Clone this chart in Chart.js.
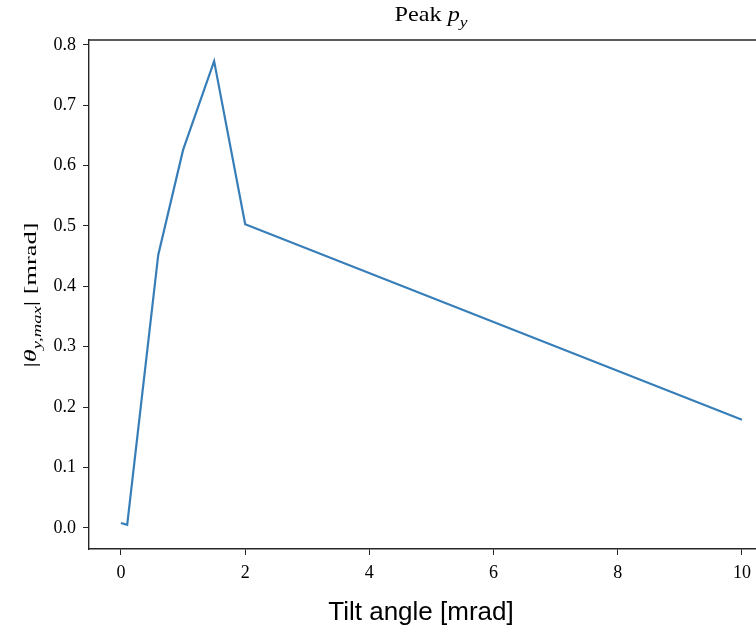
<!DOCTYPE html>
<html>
<head>
<meta charset="utf-8">
<script src="https://cdn.jsdelivr.net/npm/chart.js@4"></script>
<style>
    html, body { margin: 0; padding: 0; background: #fff; overflow: hidden; }
    #wrap { width: 790px; height: 627px; }
</style>
</head>
<body>
<div id="wrap"><canvas id="peakChart" width="790" height="627"></canvas></div>
<script>
// tilt angle [mrad] against peak |theta_y,max| [mrad]
const tiltAngles = [0, 0.1, 0.6, 1.0, 1.5, 2.0, 10];
const thetaPeak = [0.008, 0.005, 0.452, 0.626, 0.773, 0.503, 0.179];
const xTicks = [0, 2, 4, 6, 8, 10];
const yTicks = [0.0, 0.1, 0.2, 0.3, 0.4, 0.5, 0.6, 0.7, 0.8];

const SERIF = '"Liberation Serif", "DejaVu Serif", serif';
const INK = '#262626';

// draws a run of [text, style] pieces; style: '' normal, 'i' italic, 's' italic subscript
// width, when given, stretches the run to that length
function drawPieces(ctx, pieces, size, x, y, width) {
    let fontFor = st => st === '' ? size + 'px ' + SERIF
        : st === 'i' ? 'italic ' + size + 'px ' + SERIF
        : 'italic ' + Math.round(size * 0.72) + 'px ' + SERIF;
    let total = 0;
    pieces.forEach(p => { ctx.font = fontFor(p[1]); total += ctx.measureText(p[0]).width; });
    let sx = width ? width / total : 1;
    ctx.save();
    ctx.translate(x, y);
    ctx.scale(sx, 1);
    let cx = -total / 2;
    ctx.textBaseline = 'alphabetic';
    ctx.textAlign = 'left';
    pieces.forEach(p => {
        ctx.font = fontFor(p[1]);
        let dy = p[1] === 's' ? size * 0.27 : 0;
        ctx.fillText(p[0], cx, dy);
        cx += ctx.measureText(p[0]).width;
    });
    ctx.restore();
}

const labelsPlugin = {
    id: 'labels',
    afterDraw(chart) {
        const ctx = chart.ctx;
        const area = chart.chartArea;
        ctx.save();
        ctx.fillStyle = '#000';

        // title
        drawPieces(ctx, [['Peak ', ''], ['p', 'i'], ['y', 's']], 21, 431, 21, 73);

        // y axis title, rotated
        ctx.save();
        ctx.translate(36, 295);
        ctx.rotate(-Math.PI / 2);
        drawPieces(ctx, [['|', ''], ['\u03b8', 'i'], ['y,max', 's'], ['| [mrad]', '']], 17, 0, 0, 145);
        ctx.restore();

        // x axis title
        ctx.font = '26px "Liberation Sans", Arial, sans-serif';
        ctx.textAlign = 'center';
        ctx.textBaseline = 'alphabetic';
        ctx.fillText('Tilt angle [mrad]', 421, 620);

        // top spine
        ctx.strokeStyle = INK;
        ctx.lineWidth = 1.4;
        ctx.beginPath();
        ctx.moveTo(area.left, area.top);
        ctx.lineTo(area.right, area.top);
        ctx.stroke();
        ctx.restore();
    }
};

const points = tiltAngles.map((t, i) => ({ x: t, y: thetaPeak[i] }));

new Chart(document.getElementById('peakChart'), {
    type: 'line',
    data: {
        datasets: [{
            data: points,
            borderColor: 'rgb(55, 126, 184)',
            borderWidth: 2.2,
            tension: 0,
            pointRadius: 0,
            fill: false,
        }],
    },
    options: {
        responsive: false,
        animation: false,
        layout: { padding: { top: 40, right: 17, left: 0, bottom: 0 } },
        plugins: { legend: { display: false }, tooltip: { enabled: false } },
        scales: {
            x: {
                type: 'linear',
                min: -0.515,
                max: 10.5,
                afterBuildTicks: scale => { scale.ticks = xTicks.map(v => ({ value: v })); },
                afterFit: scale => { scale.height = 78; },
                grid: { drawOnChartArea: false, tickLength: 6, color: INK, tickWidth: 1 },
                border: { color: INK, width: 1.4 },
                ticks: { color: '#000', font: { family: SERIF, size: 18 }, padding: 7, maxRotation: 0 },
            },
            y: {
                min: -0.035,
                max: 0.808,
                afterBuildTicks: scale => { scale.ticks = yTicks.map(v => ({ value: v })); },
                afterFit: scale => { scale.width = 89; },
                grid: { drawOnChartArea: false, tickLength: 6, color: INK, tickWidth: 1 },
                border: { color: INK, width: 1.4 },
                ticks: {
                    color: '#000',
                    font: { family: SERIF, size: 18 },
                    padding: 7,
                    callback: v => v.toFixed(1),
                },
            },
        },
    },
    plugins: [labelsPlugin],
});
</script>
</body>
</html>
